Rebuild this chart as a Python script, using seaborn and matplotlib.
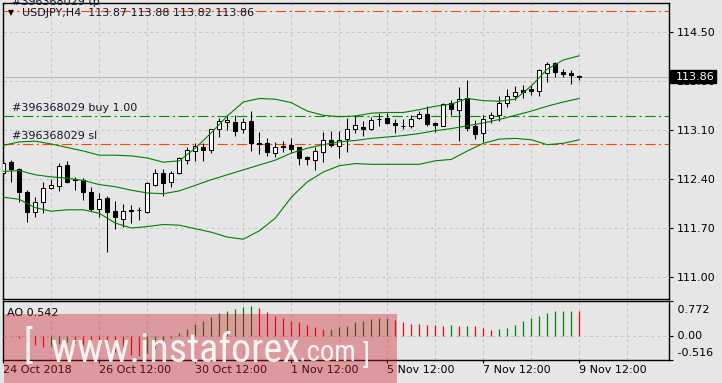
import numpy as np
import pandas as pd
import matplotlib
matplotlib.use("Agg")
import matplotlib.pyplot as plt
import matplotlib.transforms as mtransforms
from matplotlib import font_manager
from matplotlib.patches import Rectangle
import seaborn as sns

# ---------------- data ----------------
symbol = "USDJPY,H4"
bar_index = list(range(73))
opens = [112.48, 112.64, 112.54, 112.21, 111.93, 112.07, 112.27, 112.30, 112.60, 112.40,
         112.38, 112.21, 111.97, 112.13, 111.94, 111.83, 111.96, 111.96, 111.93, 112.32,
         112.49, 112.35, 112.49, 112.67, 112.80, 112.85, 112.81, 113.11, 113.22, 113.21,
         113.11, 113.23, 112.91, 112.91, 112.77, 112.87, 112.89, 112.85, 112.71, 112.67,
         112.78, 112.95, 112.87, 112.97, 113.11, 113.14, 113.11, 113.25, 113.27, 113.20,
         113.16, 113.16, 113.27, 113.33, 113.20, 113.16, 113.49, 113.39, 113.55, 113.16,
         113.05, 113.27, 113.32, 113.49, 113.58, 113.67, 113.68, 113.65, 113.91, 114.05,
         113.93, 113.91, 113.87]
highs = [112.73, 112.67, 112.55, 112.24, 112.14, 112.35, 112.40, 112.63, 112.66, 112.43,
         112.42, 112.28, 112.20, 112.16, 112.08, 112.04, 112.03, 112.00, 112.36, 112.54,
         112.54, 112.51, 112.72, 112.86, 112.92, 112.92, 113.12, 113.27, 113.32, 113.31,
         113.27, 113.37, 113.07, 112.99, 112.93, 112.94, 112.98, 112.86, 112.73, 112.86,
         113.07, 113.09, 113.09, 113.27, 113.32, 113.23, 113.28, 113.34, 113.34, 113.26,
         113.26, 113.31, 113.37, 113.44, 113.22, 113.48, 113.53, 113.71, 113.81, 113.24,
         113.31, 113.36, 113.59, 113.68, 113.73, 113.74, 113.74, 113.97, 114.07, 114.07,
         113.97, 113.96, 113.88]
lows = [112.43, 112.36, 112.07, 111.79, 111.85, 111.91, 112.26, 112.23, 112.34, 112.24,
        112.10, 111.94, 111.85, 111.36, 111.69, 111.71, 111.77, 111.82, 111.91, 112.30,
        112.16, 112.29, 112.47, 112.62, 112.66, 112.66, 112.77, 113.00, 113.10, 113.01,
        113.05, 112.80, 112.75, 112.73, 112.72, 112.79, 112.77, 112.60, 112.60, 112.53,
        112.64, 112.86, 112.70, 112.78, 113.06, 113.01, 113.10, 113.15, 113.18, 113.06,
        113.11, 113.13, 113.25, 113.15, 113.07, 113.15, 113.32, 112.94, 113.09, 112.97,
        112.93, 113.20, 113.23, 113.43, 113.53, 113.56, 113.60, 113.58, 113.78, 113.85,
        113.85, 113.75, 113.82]
closes = [112.63, 112.54, 112.22, 111.93, 112.07, 112.27, 112.31, 112.58, 112.36, 112.38,
          112.21, 111.97, 112.11, 111.93, 111.86, 111.94, 111.94, 111.95, 112.34, 112.48,
          112.34, 112.48, 112.70, 112.82, 112.87, 112.82, 113.11, 113.23, 113.24, 113.09,
          113.22, 112.91, 112.90, 112.78, 112.85, 112.85, 112.83, 112.70, 112.68, 112.80,
          112.96, 112.89, 112.95, 113.11, 113.17, 113.12, 113.24, 113.26, 113.20, 113.17,
          113.15, 113.25, 113.33, 113.18, 113.17, 113.47, 113.40, 113.54, 113.13, 113.04,
          113.26, 113.32, 113.49, 113.58, 113.64, 113.64, 113.66, 113.96, 114.04, 113.93,
          113.90, 113.88, 113.86]

band_index = list(range(0, 73, 2))
bb_upper = [112.88, 112.93, 112.94, 112.90, 112.85, 112.80, 112.74, 112.74, 112.73, 112.70,
            112.64, 112.66, 112.84, 113.06, 113.30, 113.50, 113.55, 113.54, 113.49, 113.37,
            113.31, 113.29, 113.30, 113.34, 113.35, 113.35, 113.39, 113.44, 113.47, 113.55,
            113.52, 113.51, 113.54, 113.73, 113.97, 114.10, 114.16]
bb_middle = [112.51, 112.52, 112.46, 112.43, 112.41, 112.38, 112.32, 112.29, 112.24, 112.20,
             112.19, 112.23, 112.31, 112.39, 112.46, 112.53, 112.60, 112.67, 112.77, 112.84,
             112.89, 112.93, 112.95, 112.98, 113.00, 113.02, 113.05, 113.09, 113.12, 113.16,
             113.20, 113.25, 113.31, 113.37, 113.44, 113.50, 113.55]
bb_lower = [112.14, 112.11, 111.99, 111.94, 111.96, 111.96, 111.91, 111.77, 111.70, 111.72,
            111.75, 111.74, 111.69, 111.64, 111.57, 111.54, 111.66, 111.84, 112.14, 112.36,
            112.50, 112.59, 112.62, 112.61, 112.61, 112.61, 112.61, 112.66, 112.68, 112.80,
            112.91, 112.97, 112.98, 112.96, 112.89, 112.91, 112.96]

ao_values = [-0.03, 0.01, -0.04, -0.12, -0.20, -0.24, -0.21, -0.17, -0.14, -0.16,
             -0.19, -0.23, -0.26, -0.31, -0.35, -0.38, -0.41, -0.43, -0.37, -0.27,
             -0.15, -0.04, 0.07, 0.16, 0.26, 0.33, 0.42, 0.50, 0.55, 0.59,
             0.64, 0.67, 0.62, 0.52, 0.44, 0.39, 0.34, 0.30, 0.24, 0.19,
             0.16, 0.165, 0.19, 0.23, 0.30, 0.33, 0.38, 0.39, 0.40, 0.35,
             0.31, 0.27, 0.26, 0.25, 0.235, 0.23, 0.233, 0.228, 0.232, 0.226,
             0.17, 0.14, 0.16, 0.17, 0.25, 0.34, 0.39, 0.45, 0.50, 0.545,
             0.55, 0.555, 0.542]

price_ticks = [111.00, 111.70, 112.40, 113.10, 113.80, 114.50]
ao_ticks = [0.772, 0.00, -0.516]
date_positions = [0, 12, 24, 36, 48, 60, 72]
date_labels = ["24 Oct 2018", "26 Oct 12:00", "30 Oct 12:00", "1 Nov 12:00",
               "5 Nov 12:00", "7 Nov 12:00", "9 Nov 12:00"]
order_id = "#396368029"
tp_level, buy_level, sl_level = 114.80, 113.30, 112.90
buy_lots = 1.00
last_price = closes[-1]

# ---------------- style ----------------
sns.set_theme(style="white")
plt.rcParams["font.family"] = ["DejaVu Sans"]
plt.rcParams["lines.scale_dashes"] = False
BG = "#E6E6E6"
GRID = "#C6C6C6"
W, H = 722, 383

fig = plt.figure(figsize=(7.22, 3.83), dpi=100, facecolor=BG)


def rect(x0, y0, x1, y1):
    return [x0 / W, 1 - y1 / H, (x1 - x0) / W, (y1 - y0) / H]


def fx(x):
    return x / W


def fy(y):
    return 1 - y / H


ax = fig.add_axes(rect(2.7, 2.5, 669.5, 298.5))
ao = fig.add_axes(rect(2.7, 301, 669.5, 359.5))
for a in (ax, ao):
    a.set_facecolor(BG)
    a.set_xlim(-0.075, 83.27)
    for s in a.spines.values():
        s.set_color("black")
        s.set_linewidth(1.0)

ax.set_ylim(110.693, 114.921)
ao.set_ylim(-0.516, 0.772)

# grid
dash_grid = (0, (2.2, 2.2))
ax.set_xticks(range(0, 84, 6))
ax.tick_params(axis="x", length=0, labelbottom=False)
ax.yaxis.tick_right()
ax.set_yticks(price_ticks)
ax.set_yticklabels([f"{t:.2f}" for t in price_ticks])
ax.tick_params(axis="y", right=True, length=3, width=0.8, color="black", pad=2,
               labelsize=8, labelcolor="black")
ax.grid(True, color=GRID, linestyle=dash_grid, linewidth=0.75)
ax.set_axisbelow(True)

# current price line
ax.axhline(last_price, color="#B8B8B8", linewidth=0.75, zorder=1)

# trade levels
lvl_dash = (0, (7.5, 2.5, 1.5, 2.5))
ax.axhline(tp_level, color="#FF4500", linewidth=0.8, linestyle=lvl_dash, zorder=2)
ax.axhline(buy_level, color="#009000", linewidth=0.8, linestyle=lvl_dash, zorder=2)
ax.axhline(sl_level, color="#FF4500", linewidth=0.8, linestyle=lvl_dash, zorder=2)

lbl_col = "#15152a"
for lvl, txt, dy in [(tp_level, f"{order_id} tp", 6.6),
                     (buy_level, f"{order_id} buy {buy_lots:.2f}", 5.4),
                     (sl_level, f"{order_id} sl", 5.4)]:
    ax.annotate(txt, xy=(0.0135, lvl), xycoords=("axes fraction", "data"),
                xytext=(0, dy), textcoords="offset points", ha="left", va="center",
                fontsize=8, color=lbl_col, annotation_clip=False, zorder=6)

# candles
df = pd.DataFrame({"k": bar_index, "open": opens, "high": highs, "low": lows, "close": closes})
bull = df["close"] >= df["open"]
ax.vlines(df["k"], df["low"], df["high"], color="black", linewidth=0.75, zorder=3)
heights = (df["close"] - df["open"]).abs().clip(lower=0.003)
ax.bar(df["k"], heights, bottom=np.minimum(df["open"], df["close"]), width=0.5,
       color=np.where(bull, "white", "black"), edgecolor="black", linewidth=0.75, zorder=4)

# Bollinger bands via seaborn
bands = pd.DataFrame({"k": band_index, "upper": bb_upper, "middle": bb_middle, "lower": bb_lower})
for col in ["upper", "middle", "lower"]:
    sns.lineplot(data=bands, x="k", y=col, ax=ax, color="#008000", linewidth=0.8, zorder=5)
ax.set_xlabel("")
ax.set_ylabel("")

# last price box
bt = mtransforms.blended_transform_factory(fig.transFigure, ax.transData)
ax.add_patch(Rectangle((fx(670), last_price - 0.09), fx(46), 0.18, transform=bt,
                       facecolor="black", edgecolor="black", clip_on=False, zorder=20))
ax.text(fx(676), last_price, f"{last_price:.2f}", transform=bt, color="white", fontsize=8,
        ha="left", va="center", zorder=21, clip_on=False)

# header
fig.text(fx(7.5), fy(12.3), "\u25BC", fontsize=5.5, ha="left", va="center", color="black", zorder=30)
fig.text(fx(21.5), fy(12.5),
         f"{symbol}  {opens[-1]:.2f} {highs[-1]:.2f} {lows[-1]:.2f} {closes[-1]:.2f}",
         fontsize=8, ha="left", va="center", color=lbl_col, zorder=30)

# ---------------- AO panel ----------------
aodf = pd.DataFrame({"k": bar_index, "ao": ao_values})
prev = aodf["ao"].shift(1)
ao_colors = np.where(aodf["ao"] > prev, "#008000", "#FF0000")
ao.vlines(aodf["k"], 0, aodf["ao"], colors=ao_colors, linewidth=0.9, zorder=3)
ao.axhline(0, color=GRID, linestyle=dash_grid, linewidth=0.75, zorder=1)

ao.set_xticks(date_positions)
ao.set_xticklabels(date_labels)
ao.set_xticks(range(0, 84, 6), minor=True)
ao.tick_params(axis="x", which="major", bottom=True, length=2.5, width=0.8, color="black",
               pad=1.5, labelsize=8, labelcolor="black")
ao.tick_params(axis="x", which="minor", length=0)
for lbl in ao.get_xticklabels():
    lbl.set_ha("left")
ao.grid(True, axis="x", which="both", color=GRID, linestyle=dash_grid, linewidth=0.75)
ao.set_axisbelow(True)
ao.yaxis.tick_right()
ao.set_yticks(ao_ticks)
ao.set_yticklabels([])
ao.tick_params(axis="y", right=True, length=3, width=0.8, color="black")
bt2 = mtransforms.blended_transform_factory(ao.transAxes, ao.transData)
for val, dy in zip(ao_ticks, [-6.5, 0, 5.0]):
    t = mtransforms.offset_copy(bt2, fig=fig, x=3.5, y=dy, units="points")
    txt = f"{val:.3f}" if val != 0 else f"{val:.2f}"
    ao.text(1.0, val, " " + txt, transform=t,
            fontsize=8, ha="left", va="center", color="black", clip_on=False)

ao.text((7.3 - 2.7) / 666.8, 1 - (313 - 301) / 58.5, f"AO {ao_values[-1]:.3f}",
        transform=ao.transAxes, fontsize=8, ha="left", va="center", color="black")

# ---------------- watermark ----------------
fig.patches.append(Rectangle((fx(4), fy(383)), fx(393), 69 / H, transform=fig.transFigure,
                             facecolor=(0.80, 0.12, 0.16), alpha=0.38, edgecolor="none", zorder=40))
installed = {f.name for f in font_manager.fontManager.ttflist}
wm_font = "DejaVu Sans"
for cand in ["Roboto Condensed", "Liberation Sans Narrow", "DejaVu Sans Condensed",
             "Open Sans Condensed", "Liberation Sans", "Roboto"]:
    if cand in installed:
        wm_font = cand
        break
wm_stretch = "condensed" if wm_font == "DejaVu Sans Condensed" else "normal"
wm_texts = [
    ("[", 24, 358, 27, None),
    ("www.instaforex", 51, 362, 33, 249),
    (".com", 299, 361, 24, 57),
    ("]", 363, 364, 20, None),
]
made = []
for s, x, y, size, target in wm_texts:
    t = fig.text(fx(x), fy(y), s, fontsize=size, color="white", alpha=0.9,
                 family=[wm_font, "DejaVu Sans"], fontstretch=wm_stretch,
                 ha="left", va="baseline", zorder=41)
    made.append((t, size, target))
fig.canvas.draw()
renderer = fig.canvas.get_renderer()
for t, size, target in made:
    if target:
        w = t.get_window_extent(renderer).width
        if w > 0:
            t.set_fontsize(size * target / w)

fig.savefig("out.png", dpi=100, facecolor=BG)
